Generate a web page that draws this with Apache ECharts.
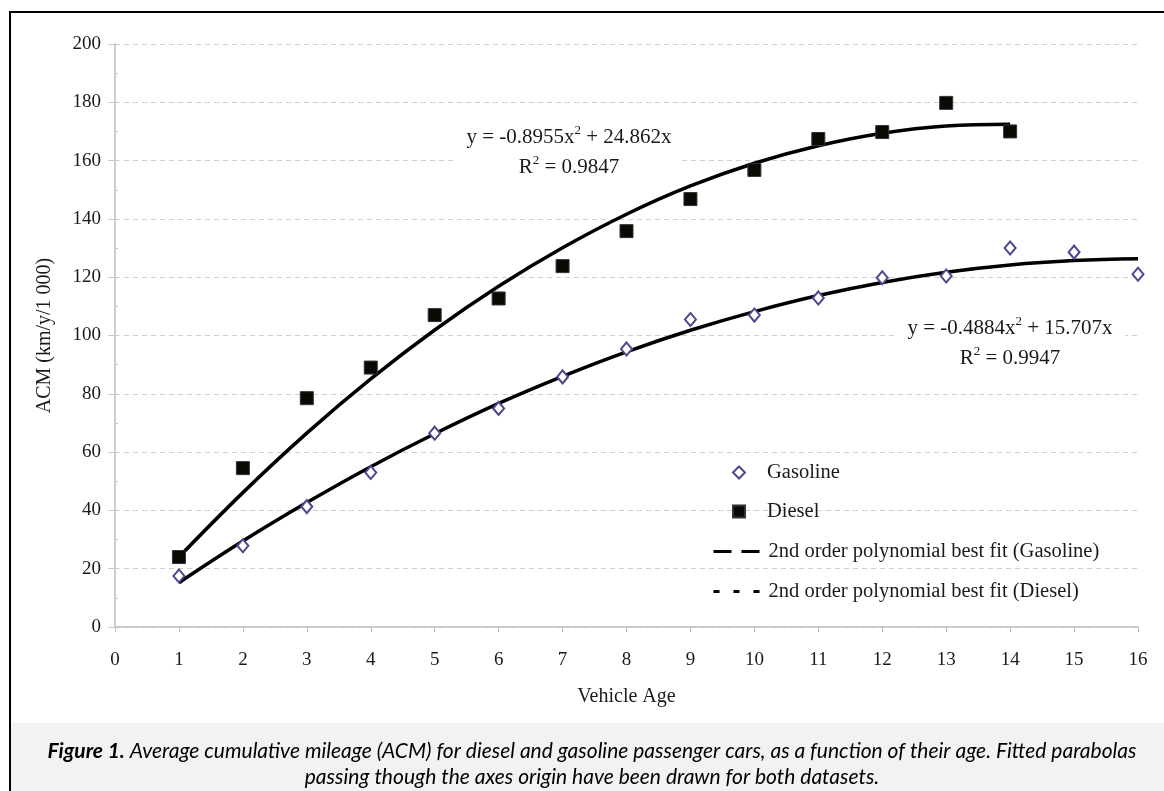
<!DOCTYPE html>
<html>
<head>
<meta charset="utf-8">
<script src="https://cdn.jsdelivr.net/npm/echarts@6/dist/echarts.min.js"></script>
<style>
html,body{margin:0;padding:0;background:#fff;}
#c{width:1164px;height:791px;}
</style>
</head>
<body>
<div id="c"></div>
<script>
// ---- data ----
const ages = [1,2,3,4,5,6,7,8,9,10,11,12,13,14,15,16];
const gasoline = [17.5,27.9,41.3,53,66.5,75,85.8,95.4,105.5,107,112.9,119.8,120.4,130,128.6,121];
const diesel = [24,54.5,78.5,89,107,112.7,123.8,135.8,146.8,156.8,167.4,169.8,179.8,170];
// fitted parabola values at each integer age (as drawn)
const fitGasoline = [15.2,29.5,42.7,55.0,66.3,76.7,86.0,94.4,101.8,108.2,113.7,118.2,121.7,124.2,125.7,126.3];
const fitDiesel = [24.0,46.1,66.5,85.1,101.9,116.9,130.1,141.6,151.3,159.1,165.1,169.4,171.9,172.5];
const xTicks = [0,16,1];     // min, max, interval
const yTicks = [0,200,20];   // min, max, interval

const serif = 'Liberation Serif, Times New Roman, serif';
const pair = (xs, ys) => ys.map((v, i) => [xs[i], v]);

const chart = echarts.init(document.getElementById('c'), null, {renderer: 'canvas'});
const txtColor = '#1a1a1a';
const eqRich = {
  a: {fontFamily: serif, fontSize: 21, lineHeight: 26, fill: txtColor},
  s: {fontFamily: serif, fontSize: 13, lineHeight: 13, verticalAlign: 'top', fill: txtColor}
};
const G_FIT = '2nd order polynomial best fit (Gasoline)';
const D_FIT = '2nd order polynomial best fit (Diesel)';

chart.setOption({
  backgroundColor: '#fff',
  animation: false,
  grid: {left: 115, right: 26, top: 44, bottom: 164},
  xAxis: {
    type: 'value', min: xTicks[0], max: xTicks[1], interval: xTicks[2],
    name: 'Vehicle Age', nameLocation: 'middle', nameGap: 60,
    nameTextStyle: {fontFamily: serif, fontSize: 20, color: txtColor},
    axisLine: {show: true, lineStyle: {color: '#bdbdbd', width: 1.5}},
    axisTick: {show: true, length: 5, lineStyle: {color: '#bdbdbd'}},
    axisLabel: {fontFamily: serif, fontSize: 19, color: txtColor, margin: 24},
    splitLine: {show: false}
  },
  yAxis: [{
    type: 'value', min: yTicks[0], max: yTicks[1], interval: yTicks[2],
    name: 'ACM (km/y/1 000)', nameLocation: 'middle', nameGap: 60, nameRotate: 90,
    nameTextStyle: {fontFamily: serif, fontSize: 20, color: txtColor},
    axisLine: {show: true, lineStyle: {color: '#bdbdbd', width: 1.5}},
    axisTick: {show: true, length: 7, lineStyle: {color: '#c8c8c8'}},
    axisLabel: {fontFamily: serif, fontSize: 19, color: txtColor, margin: 14},
    splitLine: {show: true, lineStyle: {color: '#cfcfcf', type: [5, 4], width: 1}}
  }, {
    type: 'value', min: yTicks[0], max: yTicks[1], interval: yTicks[2] / 2, position: 'left',
    axisLine: {show: false},
    axisTick: {show: true, inside: true, length: 3, lineStyle: {color: '#c8c8c8'}},
    axisLabel: {show: false},
    splitLine: {show: false}
  }],
  legend: [{
    orient: 'vertical', left: 727, top: 457,
    itemWidth: 12, itemHeight: 12, itemGap: 18,
    textStyle: {fontFamily: serif, fontSize: 20.5, color: txtColor, lineHeight: 21, padding: [0, 0, 0, 17]},
    data: ['Gasoline', 'Diesel']
  }, {
    orient: 'vertical', left: 707, top: 536,
    itemWidth: 46, itemHeight: 12, itemGap: 19,
    textStyle: {fontFamily: serif, fontSize: 20.5, color: txtColor, lineHeight: 21, padding: [0, 0, 0, 4]},
    data: [
      {name: G_FIT, itemStyle: {opacity: 0}, lineStyle: {type: [18, 10], width: 3, color: '#000'}},
      {name: D_FIT, itemStyle: {opacity: 0}, lineStyle: {type: [6, 14], width: 3, color: '#000'}}
    ]
  }],
  graphic: {elements: [
    {type: 'rect', z: 1, shape: {x: 456, y: 121, width: 226, height: 62}, style: {fill: '#fff'}},
    {type: 'rect', z: 1, shape: {x: 895, y: 312, width: 230, height: 62}, style: {fill: '#fff'}},
    {type: 'text', z: 5, x: 569, y: 137, style: {
      text: '{a|y = -0.8955x}{s|2}{a| + 24.862x}', align: 'center', verticalAlign: 'middle', rich: eqRich}},
    {type: 'text', z: 5, x: 569, y: 167, style: {
      text: '{a|R}{s|2}{a| = 0.9847}', align: 'center', verticalAlign: 'middle', rich: eqRich}},
    {type: 'text', z: 5, x: 1010, y: 328, style: {
      text: '{a|y = -0.4884x}{s|2}{a| + 15.707x}', align: 'center', verticalAlign: 'middle', rich: eqRich}},
    {type: 'text', z: 5, x: 1010, y: 358, style: {
      text: '{a|R}{s|2}{a| = 0.9947}', align: 'center', verticalAlign: 'middle', rich: eqRich}},
    {type: 'rect', z: 0, shape: {x: 11, y: 723, width: 1160, height: 80}, style: {fill: '#f2f2f2'}},
    {type: 'rect', z: 10, shape: {x: 10, y: 12, width: 1170, height: 800}, style: {fill: 'none', stroke: '#000', lineWidth: 2}},
    {type: 'text', z: 5, x: 592, y: 751, style: {
      text: '{b|Figure 1.}{i| Average cumulative mileage (ACM) for diesel and gasoline passenger cars, as a function of their age. Fitted parabolas}',
      align: 'center', verticalAlign: 'middle',
      rich: {b: {fontFamily: 'Lato', fontStyle: 'italic', fontWeight: 'bold', fontSize: 21, fill: '#000'},
             i: {fontFamily: 'Lato', fontStyle: 'italic', fontSize: 21, fill: '#000'}}}},
    {type: 'text', z: 5, x: 592, y: 777, style: {
      text: 'passing though the axes origin have been drawn for both datasets.',
      align: 'center', verticalAlign: 'middle',
      fontFamily: 'Lato', fontStyle: 'italic', fontSize: 21, fill: '#000'}}
  ]},
  series: [
    {name: G_FIT, type: 'line', data: pair(ages, fitGasoline),
     smooth: 0.4, symbol: 'none', z: 3, lineStyle: {color: '#000', width: 3.5}, itemStyle: {color: '#000'}},
    {name: D_FIT, type: 'line', data: pair(ages, fitDiesel),
     smooth: 0.4, symbol: 'none', z: 3, lineStyle: {color: '#000', width: 3.5}, itemStyle: {color: '#000'}},
    {name: 'Gasoline', type: 'scatter', data: pair(ages, gasoline), symbol: 'diamond', symbolSize: [11, 13], z: 4,
     itemStyle: {color: '#fff', borderColor: '#4b4a8c', borderWidth: 2, opacity: 1}},
    {name: 'Diesel', type: 'scatter', data: pair(ages, diesel), symbol: 'rect', symbolSize: 13, z: 4,
     itemStyle: {color: '#0a0a05', borderColor: '#333', borderWidth: 1, opacity: 1}}
  ]
});
</script>
</body>
</html>
